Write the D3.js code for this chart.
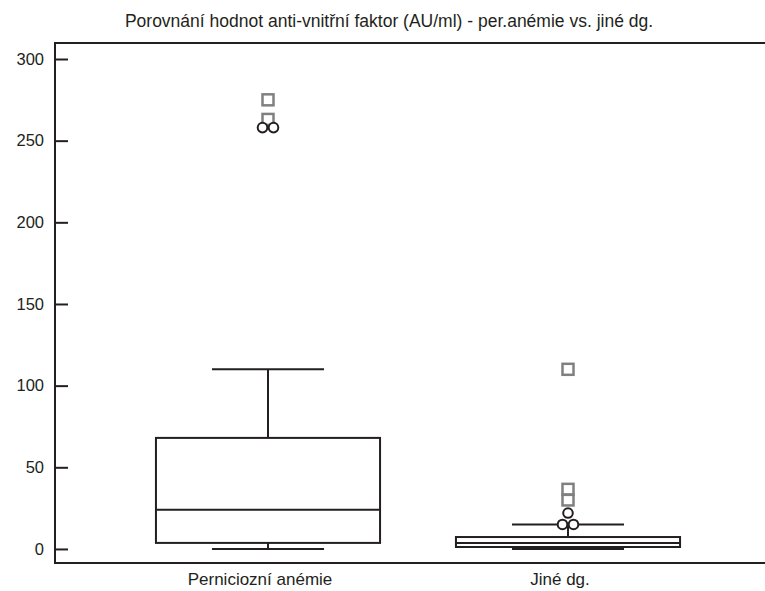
<!DOCTYPE html>
<html><head><meta charset="utf-8">
<script src="https://cdn.jsdelivr.net/npm/d3@7"></script>
<style>body{margin:0;background:#fff}svg{display:block}text{font-family:"Liberation Sans",Arial,sans-serif;fill:#231f20}</style>
</head><body><svg id="c" width="765" height="591"></svg>
<script>
const title = "Porovnání hodnot anti-vnitřní faktor (AU/ml) - per.anémie vs. jiné dg.";
const categories = ["Perniciozní anémie", "Jiné dg."];
const mins = [0, 0];
const q1s = [3.7, 1.2];
const medians = [24, 3.7];
const q3s = [68, 7.3];
const maxs = [110, 15];
const outliers = [[258, 258], [15, 15, 22]];
const farOutliers = [[263, 275], [30, 36.5, 110]];
const yTicks = [0, 50, 100, 150, 200, 250, 300];

const svg = d3.select("#c");
const L = 55, R = 765, T = 43, B = 563;
const ink = "#231f20";
const y = d3.scaleLinear().domain([-8.6, 309.8]).range([B, T]);
const x = d3.scaleBand().domain(categories).range([118, 718]).padding(0);
const boxW = x.bandwidth() * 0.747, capW = boxW * 0.5;

// frame
svg.append("line").attr("x1", L).attr("x2", R).attr("y1", T).attr("y2", T).attr("stroke", ink).attr("stroke-width", 2);
svg.append("line").attr("x1", L).attr("x2", R).attr("y1", B).attr("y2", B).attr("stroke", ink).attr("stroke-width", 2);

const yAxis = d3.axisRight(y).tickValues(yTicks).tickSize(13).tickFormat("");
const ga = svg.append("g").attr("transform", `translate(${L},0)`).call(yAxis);
ga.select(".domain").remove();
ga.selectAll(".tick line").attr("stroke", ink).attr("stroke-width", 2);
svg.append("line").attr("x1", L).attr("x2", L).attr("y1", T - 1).attr("y2", B + 1).attr("stroke", ink).attr("stroke-width", 2);
svg.selectAll(".ylab").data(yTicks).join("text").attr("class", "ylab")
  .attr("x", 44).attr("y", d => y(d)).attr("dy", "0.35em").attr("text-anchor", "end")
  .style("font-size", "16.5px").text(d => d);

// title
svg.append("text").attr("x", 389).attr("y", 27).attr("text-anchor", "middle").style("font-size", "17.5px").text(title);

// boxes
categories.forEach((c, i) => {
  const cx = x(c) + x.bandwidth() / 2;
  const g = svg.append("g");
  const st = s => s.attr("stroke", ink).attr("stroke-width", 2).attr("fill", "none");
  g.append("line").attr("x1", cx).attr("x2", cx).attr("y1", y(q3s[i])).attr("y2", y(maxs[i])).call(st);
  g.append("line").attr("x1", cx).attr("x2", cx).attr("y1", y(q1s[i])).attr("y2", y(mins[i])).call(st);
  g.append("line").attr("x1", cx - capW / 2).attr("x2", cx + capW / 2).attr("y1", y(maxs[i])).attr("y2", y(maxs[i])).call(st);
  g.append("line").attr("x1", cx - capW / 2).attr("x2", cx + capW / 2).attr("y1", y(mins[i])).attr("y2", y(mins[i])).call(st);
  g.append("rect").attr("x", cx - boxW / 2).attr("width", boxW).attr("y", y(q3s[i])).attr("height", y(q1s[i]) - y(q3s[i])).call(st);
  g.append("line").attr("x1", cx - boxW / 2).attr("x2", cx + boxW / 2).attr("y1", y(medians[i])).attr("y2", y(medians[i])).call(st);

  const jit = arr => {
    const cnt = d3.rollup(arr, v => v.length, d => d), seen = new Map();
    return arr.map(v => { const n = cnt.get(v), k = seen.get(v) || 0; seen.set(v, k + 1); return { v, off: (k - (n - 1) / 2) * 11 }; });
  };
  g.selectAll(".sq").data(jit(farOutliers[i])).join("rect").attr("class", "sq")
    .attr("x", d => cx + d.off - 5.5).attr("y", d => y(d.v) - 5.5).attr("width", 11).attr("height", 11)
    .attr("fill", "none").attr("stroke", "#808080").attr("stroke-width", 2.5);
  g.selectAll(".ci").data(jit(outliers[i])).join("circle").attr("class", "ci")
    .attr("cx", d => cx + d.off).attr("cy", d => y(d.v)).attr("r", 4.8)
    .attr("fill", "#fff").attr("stroke", ink).attr("stroke-width", 2);

  svg.append("text").attr("x", cx - 8).attr("y", 585).attr("text-anchor", "middle").style("font-size", "17px").text(c);
});
</script></body></html>
